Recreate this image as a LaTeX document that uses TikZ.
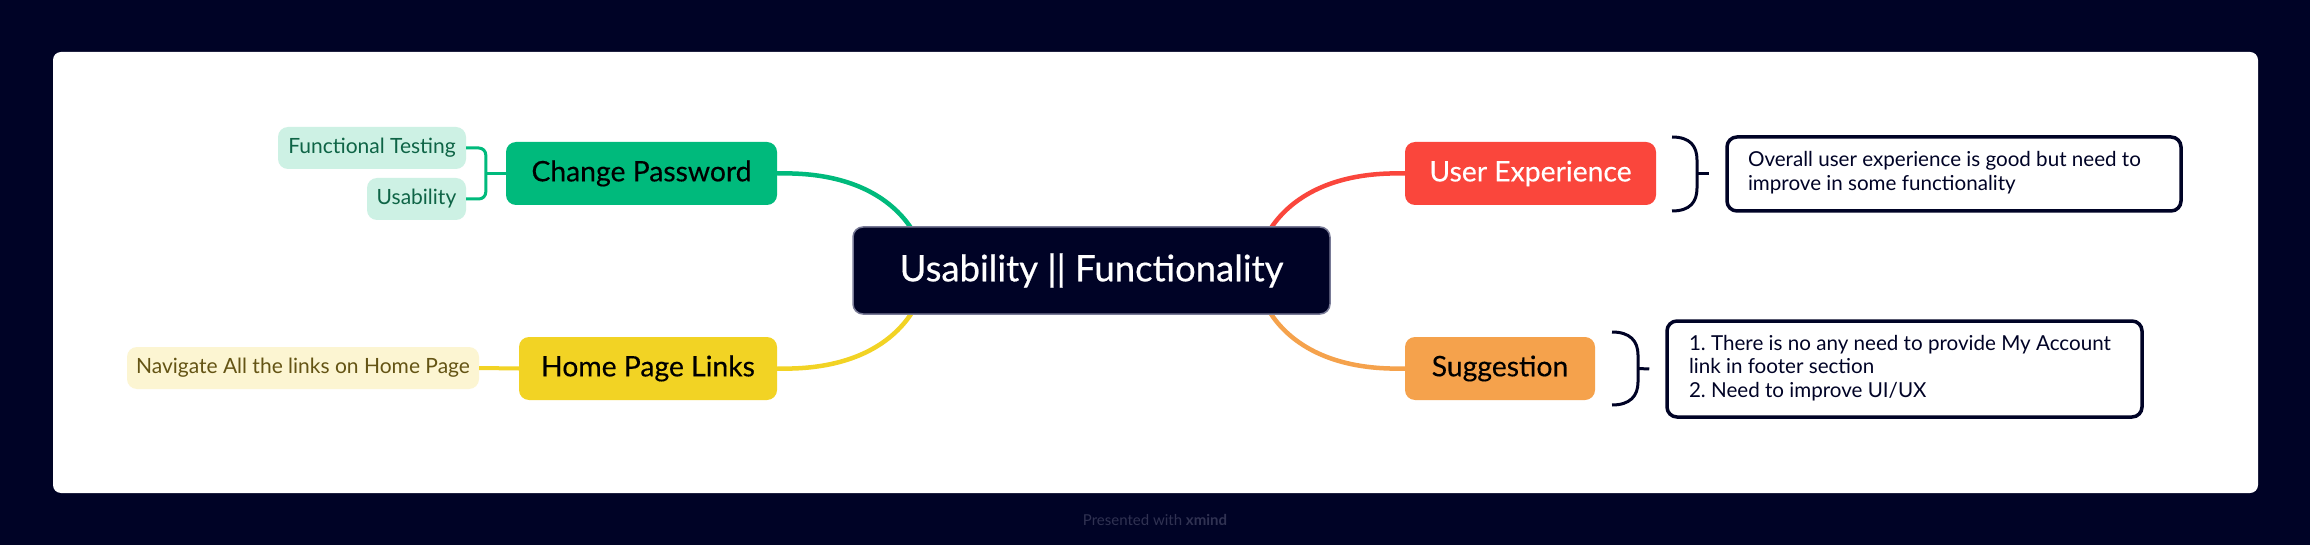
\documentclass[tikz,border=0pt]{standalone}
\usepackage{fontspec}
\setmainfont{Lato}
\frenchspacing
\usetikzlibrary{calc,backgrounds}
\definecolor{bgnavy}{RGB}{0,3,38}
\definecolor{cborder}{RGB}{120,122,150}
\definecolor{cpgreen}{RGB}{0,186,124}
\definecolor{mint}{RGB}{205,241,228}
\definecolor{mintText}{RGB}{14,100,70}
\definecolor{hpyellow}{RGB}{242,211,36}
\definecolor{lightyellow}{RGB}{252,245,210}
\definecolor{oliveText}{RGB}{100,84,20}
\definecolor{uered}{RGB}{250,70,60}
\definecolor{sgorange}{RGB}{245,162,76}
\definecolor{footgray}{RGB}{48,50,82}
\begin{document}
\begin{tikzpicture}[x=1pt,y=-1pt,
  central/.style={fill=bgnavy, draw=cborder, line width=1.5pt, rounded corners=10pt,
    minimum width=477pt, minimum height=87pt, inner sep=0pt, text=white,
    font=\fontsize{36.5}{40}\selectfont\addfontfeatures{FakeBold=0.5}},
  topic/.style={rounded corners=10pt, minimum height=63pt, inner sep=0pt,
    font=\fontsize{28.3}{32}\selectfont\addfontfeatures{FakeBold=0.3}},
  subtopic/.style={rounded corners=10pt, minimum height=42pt, inner sep=0pt,
    font=\fontsize{21}{24}\selectfont},
  notebox/.style={draw=bgnavy, line width=3.5pt, rounded corners=10pt, fill=white,
    text=bgnavy, align=left, inner ysep=0pt, font=\fontsize{20.6}{23.4}\selectfont},
  branch/.style={line width=4.5pt},
  subline/.style={line width=3pt},
  brace/.style={draw=bgnavy, line width=3pt},
  footer/.style={text=footgray, font=\fontsize{15}{18}\selectfont, inner sep=0pt}
]
\useasboundingbox (0,0) rectangle (2310,545);

% nodes
\node[central] (c) at (1091.5,270.5) {Usability || Functionality};

\node[topic, fill=cpgreen, minimum width=271pt, text=black] (cp) at (641.5,173.5) {Change Password};
\node[topic, fill=hpyellow, minimum width=258pt, text=black] (hp) at (648,368.5) {Home Page Links};
\node[topic, fill=uered, minimum width=251pt, text=white] (ue) at (1530.5,173.5) {User Experience};
\node[topic, fill=sgorange, minimum width=190pt, text=black] (sg) at (1500,368.5) {Suggestion};

\node[subtopic, fill=mint, text=mintText, minimum width=188pt] (ft) at (372,148) {Functional Testing};
\node[subtopic, fill=mint, text=mintText, minimum width=99pt] (us) at (416.5,199) {Usability};
\node[subtopic, fill=lightyellow, text=oliveText, minimum width=352pt] (nv) at (303,368) {Navigate All the links on Home Page};

\node[notebox, inner xsep=21pt, minimum height=74pt] (n1) at (1954,174)
  {\makebox[412pt][l]{\begin{tabular}{@{}l@{}}Overall user experience is good but need to\\improve in some functionality\end{tabular}}};
\node[notebox, inner xsep=22pt, minimum height=96pt] (n2) at (1904.5,369)
  {\makebox[431pt][l]{\begin{tabular}{@{}l@{}}1. There is no any need to provide My Account\\link in footer section\\2. Need to improve UI/UX\end{tabular}}};

\coordinate (cnw) at (911,228);
\coordinate (csw) at (911,314);
\coordinate (cne) at (1271,228);
\coordinate (cse) at (1271,314);

\begin{scope}[on background layer]
\fill[bgnavy] (0,0) rectangle (2310,545);
\fill[white, rounded corners=8pt] (53,52) rectangle (2258,493);
% main branches
\draw[branch, cpgreen] (cp.east) .. controls ($(cp.east)+(73,-2)$) and ($(cnw)+(-20,-30)$) .. (cnw);
\draw[branch, hpyellow] (hp.east) .. controls ($(hp.east)+(73,2)$) and ($(csw)+(-20,30)$) .. (csw);
\draw[branch, uered] (ue.west) .. controls ($(ue.west)+(-73,-2)$) and ($(cne)+(20,-30)$) .. (cne);
\draw[branch, sgorange] (sg.west) .. controls ($(sg.west)+(-73,2)$) and ($(cse)+(20,30)$) .. (cse);
\end{scope}

% sub branches
\coordinate (cpj) at ($(cp.west)+(-20,0)$);
\draw[subline, cpgreen] (cp.west) -- (cpj);
\draw[subline, cpgreen, rounded corners=7pt] (ft.east) -| (cpj) |- (us.east);
\draw[branch, line width=4pt, hpyellow] (hp.west) -- (nv.east);

% summary braces
\coordinate (b1t) at (1672,137);
\coordinate (b1b) at (1672,211);
\coordinate (b1m) at (1697,174);
\draw[brace] (b1t) .. controls (1690,137) and (1697,146) .. (1697,160) -- (1697,188)
  .. controls (1697,202) and (1690,211) .. (b1b);
\draw[brace] (b1m) -- ($(n1.west)+(-16,0)$);

\coordinate (b2t) at (1612,332);
\coordinate (b2b) at (1612,405);
\coordinate (b2m) at (1638,368.5);
\draw[brace] (b2t) .. controls (1630,332) and (1638,341) .. (1638,355) -- (1638,382)
  .. controls (1638,396) and (1630,405) .. (b2b);
\draw[brace] (b2m) -- ($(n2.west)+(-16,0)$);

\node[footer] (foot) at (1155,520) {Presented with \textbf{xmind}};
\end{tikzpicture}
\end{document}
